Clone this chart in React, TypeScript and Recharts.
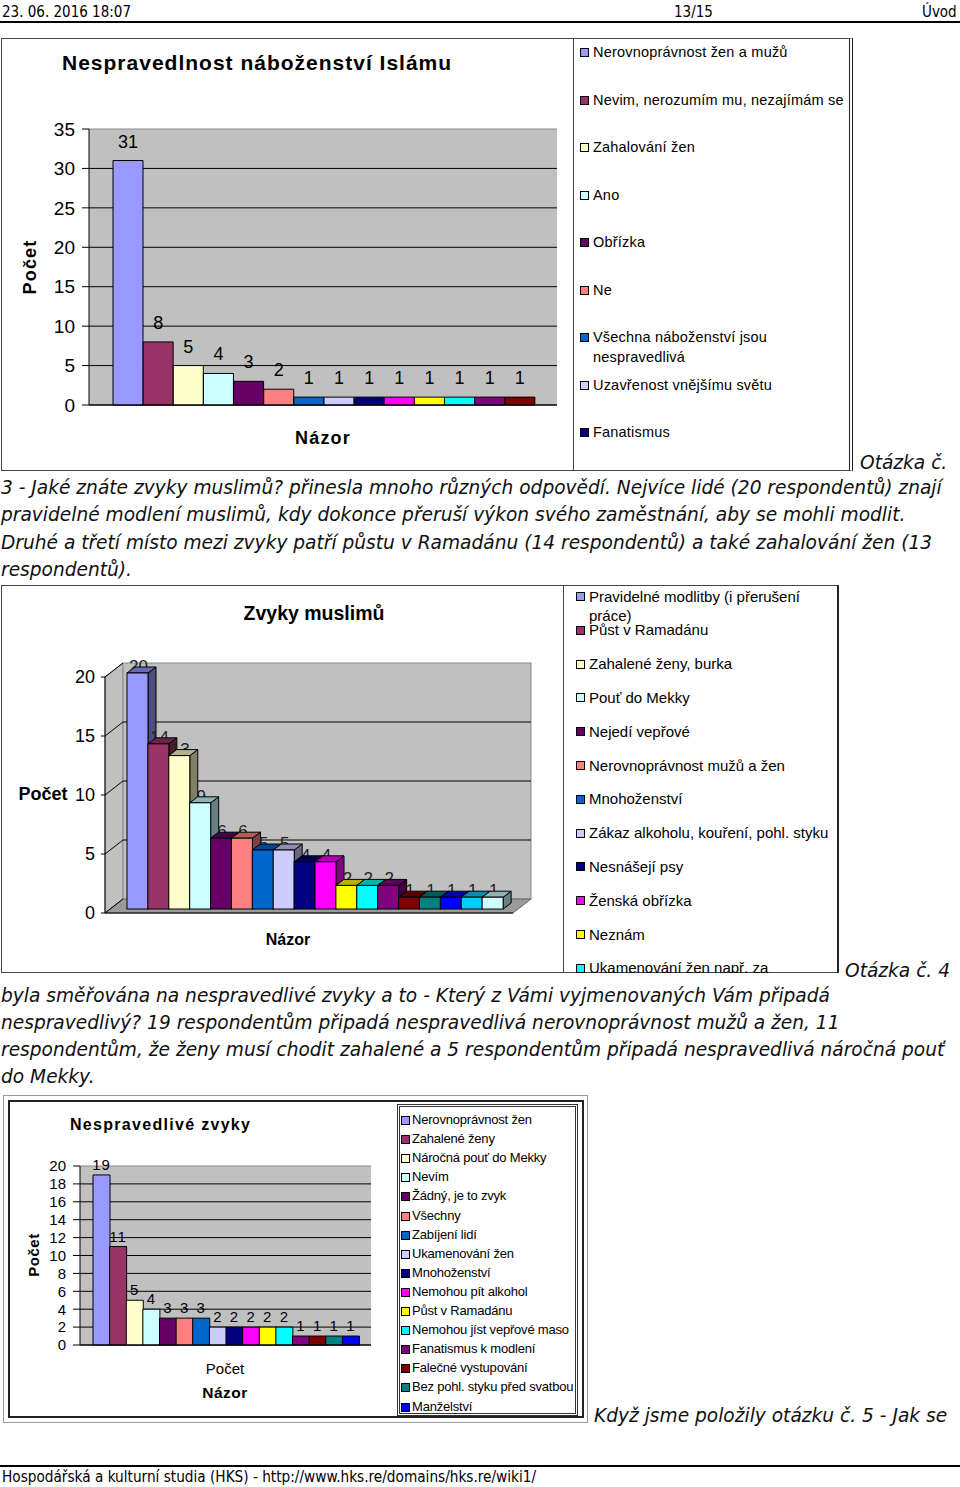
import React from 'react';
import { BarChart, Bar, XAxis, YAxis, CartesianGrid, Cell, LabelList } from 'recharts';

// shared Excel-style colour order
const palette = [
  '#9999FF', '#993366', '#FFFFCC', '#CCFFFF', '#660066', '#FF8080', '#0066CC', '#CCCCFF', '#000080',
  '#FF00FF', '#FFFF00', '#00FFFF', '#800080', '#800000', '#008080', '#0000FF', '#00CCFF', '#CCFFFF',
];

// chart 1 - Nespravedlnost náboženství Islámu
const islamNames = [
  'Nerovnoprávnost žen a mužů', 'Nevim, nerozumím mu, nezajímám se', 'Zahalování žen', 'Ano', 'Obřízka', 'Ne',
  'Všechna náboženství jsou nespravedlivá', 'Uzavřenost vnějšímu světu', 'Fanatismus',
  '', '', '', '', '',
];
const islamValues = [31, 8, 5, 4, 3, 2, 1, 1, 1, 1, 1, 1, 1, 1];
const islamTicks = [0, 5, 10, 15, 20, 25, 30, 35];

// chart 2 - Zvyky muslimů
const habitNames = [
  'Pravidelné modlitby (i přerušení práce)', 'Půst v Ramadánu', 'Zahalené ženy, burka', 'Pouť do Mekky',
  'Nejedí vepřové', 'Nerovnoprávnost mužů a žen', 'Mnohoženství', 'Zákaz alkoholu, kouření, pohl. styku',
  'Nesnášejí psy', 'Ženská obřízka', 'Neznám', 'Ukamenování žen např. za',
  '', '', '', '', '', '',
];
const habitValues = [20, 14, 13, 9, 6, 6, 5, 5, 4, 4, 2, 2, 2, 1, 1, 1, 1, 1];
const habitTicks = [0, 5, 10, 15, 20];

// chart 3 - Nespravedlivé zvyky
const unfairNames = [
  'Nerovnoprávnost žen', 'Zahalené ženy', 'Náročná pouť do Mekky', 'Nevím', 'Žádný, je to zvyk', 'Všechny',
  'Zabíjení lidí', 'Ukamenování žen', 'Mnohoženství', 'Nemohou pít alkohol', 'Půst v Ramadánu',
  'Nemohou jíst vepřové maso', 'Fanatismus k modlení', 'Falečné vystupování', 'Bez pohl. styku před svatbou',
  'Manželství',
];
const unfairValues = [19, 11, 5, 4, 3, 3, 3, 2, 2, 2, 2, 2, 1, 1, 1, 1];
const unfairTicks = [0, 2, 4, 6, 8, 10, 12, 14, 16, 18, 20];

const toRows = (names: string[], values: number[]) =>
  values.map((value, i) => ({ id: i, name: names[i], value }));

const ARIAL = '"Liberation Sans", Arial, sans-serif';
const DEJAVU = '"DejaVu Sans", sans-serif';
const CONDENSED = '"DejaVu Sans Condensed", "DejaVu Sans", sans-serif';

const shade = (hex: string, k: number) => {
  const n = parseInt(hex.slice(1), 16);
  const r = Math.round(((n >> 16) & 255) * k);
  const g = Math.round(((n >> 8) & 255) * k);
  const b = Math.round((n & 255) * k);
  return `rgb(${r},${g},${b})`;
};

// flat charts: black grid lines, top edge in grey
const flatGrid = (p: any) => {
  const pts: number[] = p.horizontalPoints || [];
  const top = pts.length ? Math.min(...pts) : p.y;
  const isTop = Math.abs(p.y1 - top) < 0.5;
  return <line x1={p.x1} y1={p.y1} x2={p.x2} y2={p.y2} stroke={isTop ? '#8a8a8a' : '#000'} strokeWidth={1} />;
};

// 3d chart: side wall, back wall, floor, diagonals
const WX = 18;
const WY = 14;
const wallGrid = (p: any) => {
  const pts: number[] = p.horizontalPoints || [];
  const top = pts.length ? Math.min(...pts) : p.y;
  const bottom = pts.length ? Math.max(...pts) : p.y + p.height;
  const isTop = Math.abs(p.y1 - top) < 0.5;
  const isBottom = Math.abs(p.y1 - bottom) < 0.5;
  const { x1, x2 } = p;
  const y = p.y1;
  return (
    <g>
      {p.index === 0 && (
        <g>
          <polygon
            points={`${x1},${top} ${x1 + WX},${top - WY} ${x1 + WX},${bottom - WY} ${x1},${bottom}`}
            fill="#C0C0C0"
            stroke="#8a8a8a"
          />
          <rect x={x1 + WX} y={top - WY} width={x2 - x1} height={bottom - top} fill="#C0C0C0" stroke="#8a8a8a" />
          <polygon
            points={`${x1},${bottom} ${x1 + WX},${bottom - WY} ${x2 + WX},${bottom - WY} ${x2},${bottom}`}
            fill="#9a9a9a"
            stroke="#666"
          />
        </g>
      )}
      <line x1={x1} y1={y} x2={x1 + WX} y2={y - WY} stroke="#000" strokeWidth={1} />
      {!isTop && !isBottom && <line x1={x1 + WX} y1={y - WY} x2={x2 + WX} y2={y - WY} stroke="#000" strokeWidth={1} />}
    </g>
  );
};

const Bar3D = (p: any) => {
  const { x, y, width, height, index } = p;
  const fill = p.fill || palette[index % palette.length];
  const bx = x + 5;
  const by = y - 4;
  const d = 8;
  const e = 6;
  const value = p.payload ? p.payload.value : p.value;
  return (
    <g>
      <text x={bx + width / 2 + 1} y={by - 1} textAnchor="middle" fontSize={17} fontFamily={ARIAL} fill="#222">
        {value}
      </text>
      <polygon
        points={`${bx + width},${by} ${bx + width + d},${by - e} ${bx + width + d},${by + height - e} ${bx + width},${by + height}`}
        fill={shade(fill, 0.5)}
        stroke="#000"
        strokeWidth={1}
      />
      <polygon
        points={`${bx},${by} ${bx + d},${by - e} ${bx + width + d},${by - e} ${bx + width},${by}`}
        fill={shade(fill, 0.7)}
        stroke="#000"
        strokeWidth={1}
      />
      <rect x={bx} y={by} width={width} height={height} fill={fill} stroke="#000" strokeWidth={1} />
    </g>
  );
};

const Abs = ({ x, y, children, style }: any) => (
  <div style={{ position: 'absolute', left: x, top: y, whiteSpace: 'nowrap', ...style }}>{children}</div>
);

const Centered = ({ x, y, rotate, children, style }: any) => (
  <div
    style={{
      position: 'absolute',
      left: x,
      top: y,
      whiteSpace: 'nowrap',
      transform: `translate(-50%, -50%)${rotate ? ' rotate(-90deg)' : ''}`,
      fontFamily: ARIAL,
      ...style,
    }}
  >
    {children}
  </div>
);

const Legend = ({ names, left, top, width, height, first, step, markX, textX, font, spacing, box, textWidth, lineHeight }: any) => (
  <div
    style={{
      position: 'absolute', left, top, width, height, overflow: 'hidden', boxSizing: 'border-box',
      fontFamily: ARIAL, fontSize: font, letterSpacing: spacing, color: '#000', ...box,
    }}
  >
    {names.map((n: string, i: number) =>
      n ? (
        <div key={i} style={{ position: 'absolute', left: 0, top: first + i * step - top - lineHeight / 2, width: '100%' }}>
          <div
            style={{
              position: 'absolute', left: markX - left, top: lineHeight / 2 - 4, width: 7, height: 7,
              background: palette[i], border: '1px solid #000',
            }}
          />
          <div style={{ position: 'absolute', left: textX - left, top: 0, width: textWidth, lineHeight: `${lineHeight}px` }}>{n}</div>
        </div>
      ) : null,
    )}
  </div>
);

const Para = ({ x, y, children }: any) => (
  <Abs x={x} y={y - 14} style={{ fontFamily: DEJAVU, fontStyle: 'italic', fontSize: 18.6, lineHeight: '28px', color: '#111' }}>
    {children}
  </Abs>
);

export default function App() {
  const d1 = toRows(islamNames, islamValues);
  const d2 = toRows(habitNames, habitValues);
  const d3 = toRows(unfairNames, unfairValues);

  return (
    <div style={{ position: 'absolute', left: 0, top: 0, width: 960, height: 1487, background: '#fff', overflow: 'hidden' }}>
      {/* header */}
      <Abs x={2} y={3} style={{ fontFamily: CONDENSED, fontSize: 15, lineHeight: '18px' }}>23. 06. 2016 18:07</Abs>
      <Abs x={674} y={3} style={{ fontFamily: CONDENSED, fontSize: 15, lineHeight: '18px' }}>13/15</Abs>
      <Abs x={922} y={3} style={{ fontFamily: CONDENSED, fontSize: 15, lineHeight: '18px' }}>Úvod</Abs>
      <div style={{ position: 'absolute', left: 0, top: 21, width: 960, height: 2, background: '#000' }} />

      {/* chart 1 */}
      <div style={{ position: 'absolute', left: 1, top: 38, width: 852, height: 433, boxSizing: 'border-box', border: '1px solid #444', borderRight: '4px double #222' }} />
      <div style={{ position: 'absolute', left: 0, top: 38 }}>
        <BarChart width={572} height={432} data={d1} margin={{ top: 91, right: 15, bottom: 64, left: 39 }} barCategoryGap={0}>
          <CartesianGrid vertical={false} fill="#C0C0C0" horizontal={flatGrid} />
          <XAxis dataKey="id" tick={false} tickLine={false} height={1} axisLine={{ stroke: '#000' }} padding={{ left: 24, right: 22 }} />
          <YAxis
            width={50} domain={[0, 35]} ticks={islamTicks} interval={0} tickSize={7} tickMargin={7}
            axisLine={{ stroke: '#000' }} tickLine={{ stroke: '#000' }}
            tick={{ fill: '#000', fontSize: 19, fontFamily: ARIAL }}
          />
          <Bar dataKey="value" stroke="#000" strokeWidth={1} isAnimationActive={false}>
            {d1.map((r) => (
              <Cell key={r.id} fill={palette[r.id]} />
            ))}
            <LabelList dataKey="value" position="top" offset={13} fill="#000" fontSize={18} fontFamily={ARIAL} />
          </Bar>
        </BarChart>
      </div>
      <Abs x={62} y={50} style={{ fontFamily: ARIAL, fontSize: 21, fontWeight: 700, letterSpacing: 1, lineHeight: '26px' }}>
        Nespravedlnost náboženství Islámu
      </Abs>
      <Centered x={30} y={267} rotate style={{ fontSize: 18, fontWeight: 700, letterSpacing: 1.2 }}>Počet</Centered>
      <Centered x={323} y={438} style={{ fontSize: 18, fontWeight: 700, letterSpacing: 1.2 }}>Názor</Centered>
      <Legend
        names={islamNames} left={573} top={38} width={277} height={433} first={52} step={47.5}
        markX={579} textX={592} font={14.5} spacing={0.2} textWidth={262} lineHeight={20}
        box={{ borderLeft: '1px solid #444' }}
      />
      <Para x={860} y={463}>Otázka č.</Para>
      <Para x={1} y={488}>3 - Jaké znáte zvyky muslimů? přinesla mnoho různých odpovědí. Nejvíce lidé (20 respondentů) znají</Para>
      <Para x={1} y={515}>pravidelné modlení muslimů, kdy dokonce přeruší výkon svého zaměstnání, aby se mohli modlit.</Para>
      <Para x={1} y={543}>Druhé a třetí místo mezi zvyky patří půstu v Ramadánu (14 respondentů) a také zahalování žen (13</Para>
      <Para x={1} y={570}>respondentů).</Para>

      {/* chart 2 */}
      <div style={{ position: 'absolute', left: 1, top: 585, width: 838, height: 388, boxSizing: 'border-box', border: '1px solid #444', borderRight: '2px solid #222' }} />
      <div style={{ position: 'absolute', left: 0, top: 585 }}>
        <BarChart width={563} height={388} data={d2} margin={{ top: 92, right: 50, bottom: 59, left: 45 }} barCategoryGap={0}>
          <CartesianGrid vertical={false} horizontal={wallGrid} />
          <XAxis dataKey="id" tick={false} tickLine={false} height={1} axisLine={{ stroke: '#000' }} padding={{ left: 17, right: 15 }} />
          <YAxis
            width={60} domain={[0, 20]} ticks={habitTicks} interval={0} tickSize={4} tickMargin={6}
            axisLine={{ stroke: '#000' }} tickLine={{ stroke: '#000' }}
            tick={{ fill: '#000', fontSize: 18, fontFamily: ARIAL }}
          />
          <Bar dataKey="value" shape={Bar3D} isAnimationActive={false}>
            {d2.map((r) => (
              <Cell key={r.id} fill={palette[r.id]} />
            ))}
          </Bar>
        </BarChart>
      </div>
      <Centered x={314} y={613} style={{ fontSize: 19.5, fontWeight: 700 }}>Zvyky muslimů</Centered>
      <Centered x={43} y={794} style={{ fontSize: 18, fontWeight: 700 }}>Počet</Centered>
      <Centered x={288} y={940} style={{ fontSize: 16, fontWeight: 700 }}>Názor</Centered>
      <Legend
        names={habitNames} left={563} top={585} width={274} height={388} first={596} step={33.8}
        markX={575} textX={588} font={15} spacing={0} textWidth={248} lineHeight={19}
        box={{ borderLeft: '1px solid #444' }}
      />
      <Para x={845} y={971}>Otázka č. 4</Para>
      <Para x={1} y={996}>byla směřována na nespravedlivé zvyky a to - Který z Vámi vyjmenovaných Vám připadá</Para>
      <Para x={1} y={1023}>nespravedlivý? 19 respondentům připadá nespravedlivá nerovnoprávnost mužů a žen, 11</Para>
      <Para x={1} y={1050}>respondentům, že ženy musí chodit zahalené a 5 respondentům připadá nespravedlivá náročná pouť</Para>
      <Para x={1} y={1077}>do Mekky.</Para>

      {/* chart 3 */}
      <div style={{ position: 'absolute', left: 3, top: 1095, width: 585, height: 328, boxSizing: 'border-box', border: '1px solid #999' }} />
      <div style={{ position: 'absolute', left: 8, top: 1100, width: 576, height: 318, boxSizing: 'border-box', border: '2px solid #222' }} />
      <div style={{ position: 'absolute', left: 0, top: 1095 }}>
        <BarChart width={397} height={328} data={d3} margin={{ top: 71, right: 26, bottom: 77, left: 40 }} barCategoryGap={0}>
          <CartesianGrid vertical={false} fill="#C0C0C0" horizontal={flatGrid} />
          <XAxis dataKey="id" tick={false} tickLine={false} height={1} axisLine={{ stroke: '#000' }} padding={{ left: 13, right: 12 }} />
          <YAxis
            width={40} domain={[0, 20]} ticks={unfairTicks} interval={0} tickSize={7} tickMargin={7}
            axisLine={{ stroke: '#000' }} tickLine={{ stroke: '#000' }}
            tick={{ fill: '#000', fontSize: 15, fontFamily: ARIAL }}
          />
          <Bar dataKey="value" stroke="#000" strokeWidth={1} isAnimationActive={false}>
            {d3.map((r) => (
              <Cell key={r.id} fill={palette[r.id]} />
            ))}
            <LabelList dataKey="value" position="top" offset={5} fill="#000" fontSize={15} fontFamily={ARIAL} letterSpacing={1} />
          </Bar>
        </BarChart>
      </div>
      <Abs x={70} y={1115} style={{ fontFamily: ARIAL, fontSize: 16, fontWeight: 700, letterSpacing: 1.3, lineHeight: '20px' }}>
        Nespravedlivé zvyky
      </Abs>
      <Centered x={33} y={1255} rotate style={{ fontSize: 15, fontWeight: 700, letterSpacing: 0.5 }}>Počet</Centered>
      <Centered x={225} y={1368} style={{ fontSize: 15 }}>Počet</Centered>
      <Centered x={225} y={1393} style={{ fontSize: 15.5, fontWeight: 700, letterSpacing: 0.5 }}>Názor</Centered>
      <Legend
        names={unfairNames} left={397} top={1104} width={181} height={312} first={1117} step={19.1}
        markX={398} textX={409} font={13} spacing={-0.2} textWidth={172} lineHeight={14}
        box={{ border: '3px double #333' }}
      />
      <Para x={594} y={1416}>Když jsme položily otázku č. 5 - Jak se</Para>

      {/* footer */}
      <div style={{ position: 'absolute', left: 0, top: 1465, width: 960, height: 2, background: '#000' }} />
      <Abs x={2} y={1468} style={{ fontFamily: CONDENSED, fontSize: 15.2, lineHeight: '18px' }}>
        Hospodářská a kulturní studia (HKS) - http://www.hks.re/domains/hks.re/wiki1/
      </Abs>
    </div>
  );
}
